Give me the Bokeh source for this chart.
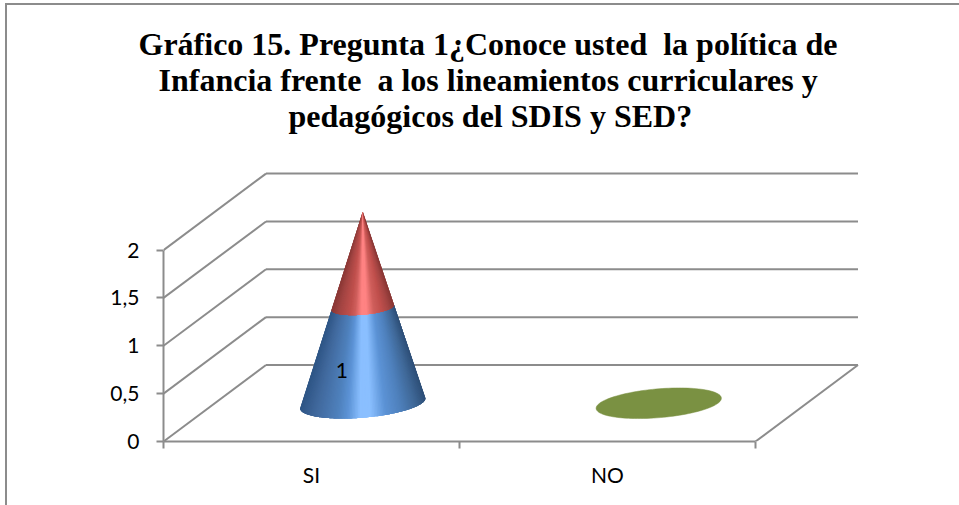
import numpy as np
from bokeh.plotting import figure
from bokeh.models import FixedTicker, Title, LinearAxis, Range1d
from bokeh.core.properties import value
from bokeh.embed import file_html
from bokeh.resources import INLINE

title_lines = ["Gráfico 15. Pregunta 1¿Conoce usted \u00a0la política de",
               "Infancia frente \u00a0a los lineamientos curriculares y",
               "pedagógicos del SDIS y SED?"]
categories = ["SI", "NO"]
serie_azul = [1, 0]
serie_roja = [1, 0]
serie_verde = [0, 0]
y_ticks = [0, 0.5, 1, 1.5, 2]
y_tick_labels = ["0", "0,5", "1", "1,5", "2"]

W, H = 959, 505
X0, Y0 = 163, 441      # canvas position of category 0 / value 0
PX_CAT, PX_VAL = 296.0, 95.7
DX, DY = 102.5 / PX_CAT, 76.5 / PX_VAL   # oblique shift of full depth, in data units
GREY = "#8c8c8c"

def proj(c, v, d):
    return np.asarray(c) + np.asarray(d) * DX, np.asarray(v) + np.asarray(d) * DY

p = figure(width=W, height=H, output_backend="svg", toolbar_location=None,
           x_range=Range1d(0, (W - X0) / PX_CAT), y_range=Range1d(0, (Y0 - 165) / PX_VAL),
           x_axis_type=None, y_axis_type=None,
           min_border_left=X0, min_border_right=0, min_border_top=165, min_border_bottom=H - Y0,
           outline_line_color=None, background_fill_color="white", border_fill_color=None)
# chart frame: only its left and top edges are visible in the picture
p.styles = {"background": f"linear-gradient({GREY},{GREY}) 5px 3px/2px 100% no-repeat,"
                          f"linear-gradient({GREY},{GREY}) 5px 3px/100% 2px no-repeat, white"}
p.grid.visible = False

# walls and floor
xs, ys = [], []
n = len(categories)
for t in y_ticks:
    bx, by = proj([0, n], [t, t], [1, 1])
    xs.append(bx); ys.append(by)
    lx, ly = proj([0, 0], [t, t], [0, 1])
    xs.append(lx); ys.append(ly)
rx, ry = proj([n, n], [0, 0], [0, 1])
xs.append(rx); ys.append(ry)
p.multi_line(xs, ys, line_color=GREY, line_width=2)

# cones
RC, RD = 0.2, 0.2
ax_stops = [0, .12, .3, .38, .48, .56, .68, .8, .92, 1]
blue_stops = ["#2f5686", "#41699d", "#4f81bd", "#5c93d6", "#8abfff", "#8abfff", "#5c93d6", "#4f81bd", "#3f6897", "#2f5079"]
red_stops = ["#8a3836", "#a34543", "#c0504d", "#cf5f5c", "#ff8383", "#ff8383", "#cf5f5c", "#c0504d", "#a34543", "#8a3836"]

def mix(stops, u):
    rgb = np.array([[int(s[i:i + 2], 16) for i in (1, 3, 5)] for s in stops], float)
    return "#%02x%02x%02x" % tuple(int(round(np.interp(u, ax_stops, rgb[:, k]))) for k in range(3))

def ring(i, v, scale, t):
    c = i + 0.5 + scale * RC * np.cos(t)
    d = 0.5 + scale * RD * np.sin(t)
    return proj(c, np.full_like(t, v, dtype=float), d)

t_start = np.pi + np.arctan2(RD * DX, RC)
t_vals = np.linspace(t_start, t_start + np.pi, 121)

for i in range(n):
    total = serie_azul[i] + serie_roja[i] + serie_verde[i]
    if total == 0:
        x, y = ring(i, 0, 1, np.linspace(0, 2 * np.pi, 120))
        p.patch(x, y, fill_color="#7a9142", line_color="#7a9142", line_width=0.5)
        continue
    level = 0.0
    bx, by = ring(i, 0, 1, t_vals)
    xmin, xmax = bx.min(), bx.max()
    for val, stops in ((serie_azul[i], blue_stops), (serie_roja[i], red_stops)):
        s0, s1 = 1 - level / total, 1 - (level + val) / total
        x0, y0 = ring(i, level, s0, t_vals)
        x1, y1 = ring(i, level + val, s1, t_vals)
        qx, qy, cols = [], [], []
        for k in range(len(t_vals) - 1):
            e = min(k + 4, len(t_vals) - 1)   # strips overlap, painted left to right, so no seams show
            qx.append(np.concatenate([x0[k:e + 1], x1[k:e + 1][::-1]]))
            qy.append(np.concatenate([y0[k:e + 1], y1[k:e + 1][::-1]]))
            cols.append(mix(stops, ((bx[k] + bx[k + 1]) / 2 - xmin) / (xmax - xmin)))
        p.patches(qx, qy, fill_color=cols, line_color=None)
        level += val
    lx, ly = proj([i + 0.5], [serie_azul[i] / 2], [0.5])
    p.text(lx, ly, text=[str(serie_azul[i])], text_font=value("Lato"), text_font_size="21px",
           text_color="black", text_align="center", text_baseline="middle", x_offset=-21, y_offset=15)

# axes
yaxis = LinearAxis(ticker=FixedTicker(ticks=y_ticks), bounds=(0, 2),
                   major_label_overrides=dict(zip(y_ticks, y_tick_labels)),
                   major_label_text_font="Lato", major_label_text_font_size="21px", major_label_text_color="black",
                   major_label_standoff=17, major_tick_out=7, major_tick_in=0, minor_tick_line_color=None,
                   axis_line_color=GREY, axis_line_width=2, major_tick_line_color=GREY, major_tick_line_width=2)
p.add_layout(yaxis, "left")
centers = [i + 0.5 for i in range(n)]
xaxis = LinearAxis(ticker=FixedTicker(ticks=centers, minor_ticks=list(range(n + 1))), bounds=(0, n),
                   major_label_overrides=dict(zip(centers, categories)),
                   major_label_text_font="Lato", major_label_text_font_size="21px", major_label_text_color="black",
                   major_label_standoff=13, major_tick_line_color=None,
                   minor_tick_out=7, minor_tick_in=0, minor_tick_line_color=GREY, minor_tick_line_width=2,
                   axis_line_color=GREY, axis_line_width=2)
p.add_layout(xaxis, "below")

# title, one Title per line (the first added sits nearest the plot)
p.add_layout(Title(text="\u00a0", standoff=0, text_font="Liberation Serif", text_font_size="28.5px"), "above")
for line, off in reversed(list(zip(title_lines, (-25, -5, 125)))):
    p.add_layout(Title(text=line, align="left", offset=off, standoff=-2,
                       text_font="Liberation Serif", text_font_style="bold", text_font_size="32px",
                       text_color="black"), "above")

open("out.html", "w").write(file_html(p, INLINE))
